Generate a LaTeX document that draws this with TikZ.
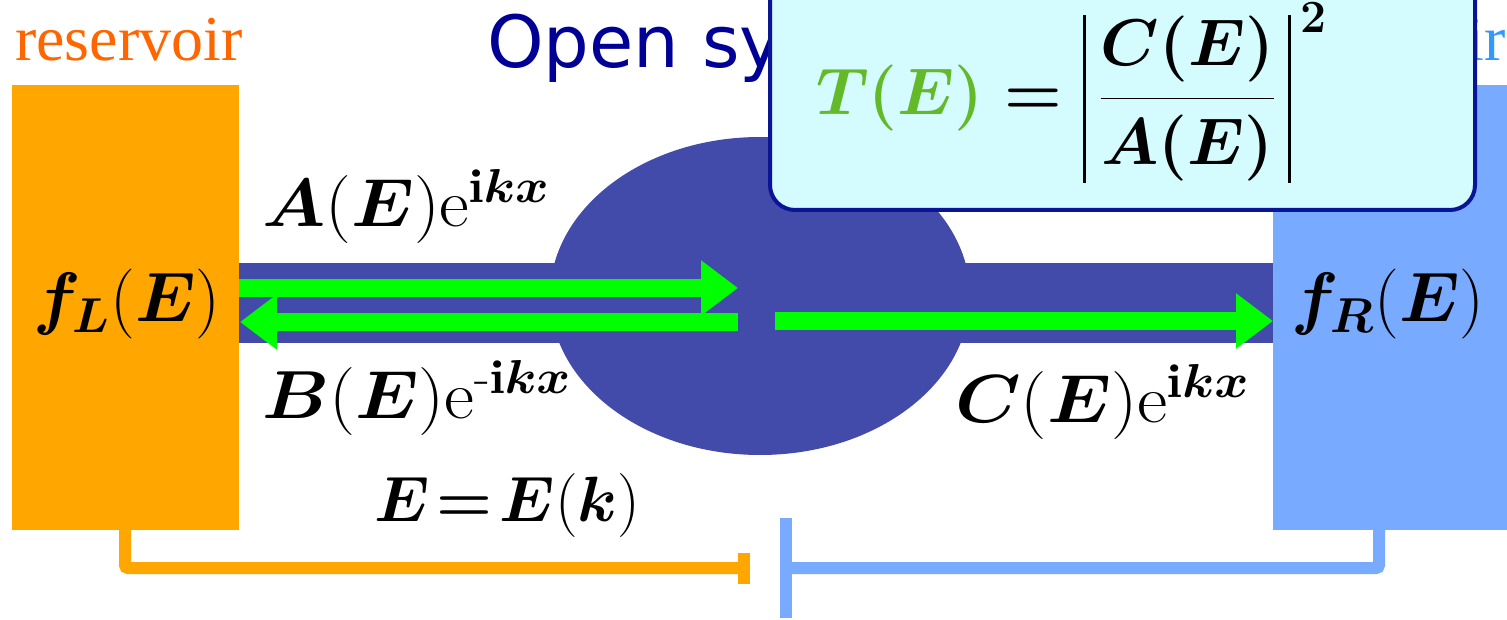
\RequirePackage{fix-cm}
\documentclass[tikz,border=0pt]{standalone}
\usepackage{amsmath,bm,graphicx}
\usepackage{fontspec}
\newfontfamily\resfont{Liberation Serif}
\newfontfamily\titlefont{DejaVu Sans}
\usetikzlibrary{arrows.meta}
\definecolor{resOrange}{RGB}{255,166,0}
\definecolor{resBlue}{RGB}{120,170,255}
\definecolor{wire}{RGB}{67,75,170}
\definecolor{arrowGreen}{RGB}{0,255,0}
\definecolor{labOrange}{RGB}{255,102,0}
\definecolor{labBlue}{RGB}{51,153,255}
\definecolor{titleBlue}{RGB}{0,0,150}
\definecolor{boxFill}{RGB}{212,252,255}
\definecolor{boxLine}{RGB}{10,20,150}
\definecolor{tGreen}{RGB}{100,185,40}
\newcommand{\myabsbar}{\rule[-68pt]{3pt}{168pt}}
\newcommand{\myTformula}{{\boldmath$\displaystyle \textcolor{tGreen}{T(E)}=\mathopen{\myabsbar}\hspace{13pt}\frac{C(E)}{A(E)}\hspace{13pt}\mathclose{\myabsbar}^{\,2}$}}
\tikzset{
  resbox/.style={inner sep=0pt, outer sep=0pt, anchor=north west, minimum width=#1},
  mathlab/.style={inner sep=0pt, anchor=base west, font=\fontsize{68}{72}\selectfont},
  flab/.style={inner sep=0pt, anchor=base west, font=\fontsize{70}{74}\selectfont},
  greenarrow/.style={draw=arrowGreen, line width=18pt, -{Triangle[length=37pt,width=53pt]}},
  oline/.style={draw=resOrange, line width=12pt, rounded corners=3pt, -{Bar[width=31pt]}},
  bline/.style={draw=resBlue, line width=12pt, rounded corners=3pt, -{Bar[width=100pt]}},
  formulabox/.style={draw=boxLine, fill=boxFill, line width=4pt, rounded corners=25pt}
}
\begin{document}
\begin{tikzpicture}[x=1pt,y=-1pt]
\useasboundingbox (0,0) rectangle (1507,620);
\fill[white] (0,0) rectangle (1507,620);
% title and reservoir labels (partly hidden by the box)
\node[anchor=base west, inner sep=0pt, font=\titlefont\fontsize{72}{80}\selectfont, text=titleBlue] (title) at (487,68) {Open system};
\node[anchor=base west, inner sep=0pt, font=\resfont\fontsize{64}{70}\selectfont, text=labOrange] (resLlab) at (15,61) {reservoir};
\node[anchor=base west, inner sep=0pt, font=\resfont\fontsize{64}{70}\selectfont, text=labBlue] (resRlab) at (1278,61) {reservoir};
% reservoirs
\node[resbox=227pt, minimum height=445pt, fill=resOrange] (resL) at (12,85) {};
\node[resbox=240pt, minimum height=445pt, fill=resBlue] (resR) at (1273,85) {};
% wire and scattering region
\fill[wire] (239,263) rectangle (1273,343);
\fill[wire] (760,296) ellipse [x radius=210pt, y radius=159pt];
% green arrows
\coordinate (g1s) at (239,288); \coordinate (g1e) at (738,288);
\coordinate (g2s) at (738,322); \coordinate (g2e) at (240,322);
\coordinate (g3s) at (775,321); \coordinate (g3e) at (1273,321);
\draw[greenarrow] (g1s) -- (g1e);
\draw[greenarrow] (g2s) -- (g2e);
\draw[greenarrow] (g3s) -- (g3e);
% labels
\node[mathlab] (lA) at (262,227) {\scalebox{1.07}[1]{$\bm{A}(\bm{E})\mathrm{e}^{\mathbf{i}\bm{k}\bm{x}}$}};
\node[mathlab] (lB) at (262,418) {\scalebox{1.08}[1]{$\bm{B}(\bm{E})\mathrm{e}^{\text{-}\mathbf{i}\bm{k}\bm{x}}$}};
\node[mathlab] (lC) at (955,422) {\scalebox{1.09}[1]{$\bm{C}(\bm{E})\mathrm{e}^{\mathbf{i}\bm{k}\bm{x}}$}};
\node[flab] (lfL) at (33,322) {$\bm{f}_{\bm{L}}(\bm{E})$};
\node[flab] (lfR) at (1291,322) {$\bm{f}_{\bm{R}}(\bm{E})$};
\node[inner sep=0pt, anchor=base west, font=\fontsize{64}{70}\selectfont] (lEk) at (374,521) {$\bm{E}\mkern2mu{\bm{=}}\mkern2mu\bm{E}(\bm{k})$};
% bottom connectors
\coordinate (oEnd) at (750,568);
\coordinate (bEnd) at (780,568);
\draw[oline] ([xshift=113pt]resL.south west) |- (oEnd);
\draw[bline] ([xshift=106pt]resR.south west) |- (bEnd);
% formula box
\draw[formulabox] (770,-40) rectangle (1475,210);
\node[inner sep=0pt, anchor=base west, font=\fontsize{66}{72}\selectfont] (formula) at (816,115) {\myTformula};
\end{tikzpicture}
\end{document}
